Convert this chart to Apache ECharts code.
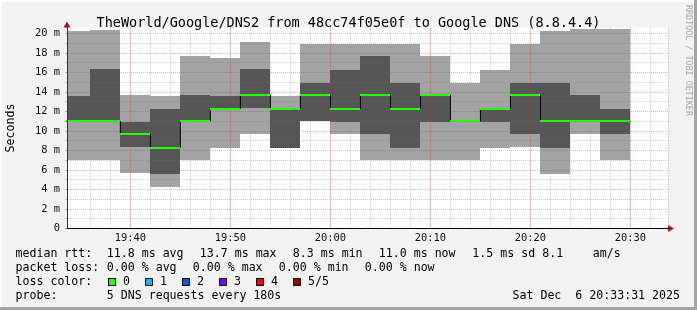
<!DOCTYPE html>
<html><head><meta charset="utf-8">
<script src="https://cdn.jsdelivr.net/npm/echarts@6/dist/echarts.min.js"></script>
<style>html,body{margin:0;padding:0;background:#f2f2f2}#c{width:697px;height:310px}</style>
</head><body><div id="c"></div>
<script>
// ---------- data ----------
const chartTitle = 'TheWorld/Google/DNS2 from 48cc74f05e0f to Google DNS (8.8.4.4)';
const binStart = ['19:33','19:36','19:39','19:42','19:45','19:48','19:51','19:54','19:57','20:00',
                  '20:03','20:06','20:09','20:12','20:15','20:18','20:21','20:24','20:27'];
const binMinutes = 3;
// sorted pings (ms): ping1 lowest ... ping5 highest, ping3 = median
const ping1  = [7.05, 7.05, 5.7, 4.3, 7.05, 8.3, 9.7, 8.3, 11.0, 9.7, 7.05, 7.05, 7.05, 7.05, 8.3, 8.35, 5.6, 9.7, 7.05];
const ping2  = [11.0, 11.0, 8.35, 5.6, 11.0, 12.3, 12.4, 8.3, 11.0, 10.95, 9.7, 8.3, 10.95, 11.0, 10.95, 9.7, 8.3, 11.0, 9.7];
const median = [11.0, 11.0, 9.7, 8.3, 11.0, 12.3, 13.7, 12.3, 13.7, 12.3, 13.7, 12.3, 13.7, 11.0, 12.3, 13.7, 11.0, 11.0, 11.0];
const ping4  = [13.6, 16.35, 10.95, 12.25, 13.7, 13.6, 16.35, 12.3, 14.95, 16.25, 17.7, 14.95, 13.7, 11.0, 12.3, 14.95, 14.95, 13.7, 12.25];
const ping5  = [20.25, 20.35, 13.7, 13.6, 17.7, 17.5, 19.1, 13.6, 18.9, 18.9, 18.9, 18.9, 17.7, 14.95, 16.25, 18.9, 20.25, 20.45, 20.45];
const xRange = ['19:33:40', '20:33:45'];
const yMax = 20.6;
const yLabelUnit = ' m';
const yAxisName = 'Seconds';
const legendRowLabels = ['median rtt:', 'packet loss:', 'loss color:', 'probe:'];
const rttStats = ['11.8 ms avg', '13.7 ms max', '8.3 ms min', '11.0 ms now', '1.5 ms sd', '8.1', 'am/s'];
const lossStats = ['0.00 % avg', '0.00 % max', '0.00 % min', '0.00 % now'];
const lossLabels = ['0', '1', '2', '3', '4', '5/5'];
const lossColors = ['#26ff00', '#00b8ff', '#0059ff', '#7e00ff', '#ff0000', '#a10000'];
const probeText = '5 DNS requests every 180s';
const dateText = 'Sat Dec  6 20:33:31 2025';
const sideText = 'RRDTOOL / TOBI OETIKER';

// ---------- helpers ----------
function t(s) {
  const p = s.split(':').map(Number);
  return new Date(2025, 11, 6, p[0], p[1], p[2] || 0).getTime();
}
const MIN = 60000;
const smokeData = binStart.map((s, i) => [t(s), t(s) + binMinutes * MIN, ping1[i], ping2[i], ping4[i], ping5[i]]);
const medData = binStart.map((s, i) => [t(s), t(s) + binMinutes * MIN, median[i]]);
const stepData = binStart.map((s, i) => [t(s), median[i]]);
stepData.push([t(binStart[binStart.length - 1]) + binMinutes * MIN, median[median.length - 1]]);

const MONO = '"DejaVu Sans Mono", monospace';
const LIGHT = '#a3a3a3', DARK = '#565656', GREEN = '#26ff00';
const RED_GRID = 'rgba(240,30,30,0.38)', GRAY_GRID = 'rgba(120,120,120,0.36)';

function clipR(r, cs) {
  return echarts.graphic.clipRectByRect(r, {x: cs.x, y: cs.y, width: cs.width, height: cs.height});
}

const chart = echarts.init(document.getElementById('c'), null, {renderer: 'canvas'});

// legend graphics
const g = [];
function txt(x, y, s, extra) {
  g.push(Object.assign({type: 'text', x: x, y: y, silent: true,
    style: Object.assign({text: s, font: '11.6px ' + MONO, fill: '#000', textAlign: 'left', textVerticalAlign: 'middle'}, extra || {})}));
}
const rowY = [254, 268, 282, 296];
legendRowLabels.forEach((s, i) => txt(15.5, rowY[i], s));
const rttX = [106.8, 199.8, 292.8, 378.8, 472.3, 542.3, 592.8];
rttStats.forEach((s, i) => txt(rttX[i], rowY[0], s));
const lossX = [106.8, 192.8, 278.8, 364.8];
lossStats.forEach((s, i) => txt(lossX[i], rowY[1], s));
const boxX = [108.5, 145.5, 182.5, 219.5, 256.5, 293.5];
lossLabels.forEach((s, i) => {
  g.push({type: 'rect', silent: true, shape: {x: boxX[i], y: 278.5, width: 7, height: 7},
          style: {fill: lossColors[i], stroke: '#000', lineWidth: 1}});
  txt(boxX[i] + 14.5, rowY[2], s);
});
txt(106.8, rowY[3], probeText);
txt(680, rowY[3], dateText, {textAlign: 'right'});
// side text
g.push({type: 'text', x: 688, y: 5, rotation: -Math.PI / 2, silent: true,
  style: {text: sideText, font: '8.4px ' + MONO, fill: '#a8a8a8', textAlign: 'left', textVerticalAlign: 'middle'}});
// frame
g.push({type: 'rect', silent: true, shape: {x: 0, y: 0, width: 697, height: 2}, style: {fill: '#fcfcfc'}});
g.push({type: 'rect', silent: true, shape: {x: 0, y: 0, width: 2, height: 310}, style: {fill: '#fcfcfc'}});
g.push({type: 'rect', silent: true, shape: {x: 0, y: 307, width: 697, height: 3}, style: {fill: '#a4a4a4'}});
g.push({type: 'rect', silent: true, shape: {x: 694, y: 0, width: 3, height: 310}, style: {fill: '#a4a4a4'}});
// axis arrows
g.push({type: 'polygon', silent: true, z: 100, shape: {points: [[67, 21.5], [63.5, 27.5], [70.5, 27.5]]}, style: {fill: '#9a1a1a'}});
g.push({type: 'polygon', silent: true, z: 100, shape: {points: [[674, 228.5], [668, 225], [668, 232]]}, style: {fill: '#9a1a1a'}});

const option = {
  animation: false,
  backgroundColor: '#f2f2f2',
  title: {
    text: chartTitle, left: 'center', top: 11,
    textStyle: {fontFamily: MONO, fontSize: 13.5, fontWeight: 'normal', color: '#000'}
  },
  grid: {left: 67, right: 29, top: 27.6, bottom: 81.5, containLabel: false, outerBoundsMode: 'none',
         show: true, backgroundColor: '#ffffff', borderWidth: 0},
  xAxis: [
    {
      type: 'time', min: t(xRange[0]), max: t(xRange[1]),
      minInterval: 10.5 * MIN, maxInterval: 10.5 * MIN,
      axisLine: {show: true, lineStyle: {color: '#000', width: 1}},
      axisTick: {show: false},
      axisLabel: {formatter: '{HH}:{mm}', fontFamily: MONO, fontSize: 10.4, color: '#111', margin: 5, hideOverlap: false},
      splitLine: {show: true, showMinLine: false, showMaxLine: false, lineStyle: {color: RED_GRID, type: [1, 1], width: 1}},
      z: 3
    },
    {
      type: 'time', min: t(xRange[0]), max: t(xRange[1]),
      minInterval: 2.5 * MIN, maxInterval: 2.5 * MIN,
      axisLine: {show: false}, axisTick: {show: false}, axisLabel: {show: false},
      splitLine: {show: true, showMinLine: false, lineStyle: {color: GRAY_GRID, type: [1, 1], width: 1}},
      z: 1
    }
  ],
  yAxis: {
    type: 'value', min: 0, max: yMax, interval: 2,
    name: yAxisName, nameLocation: 'middle', nameGap: 50,
    nameTextStyle: {fontFamily: MONO, fontSize: 11.6, color: '#000'},
    axisLine: {show: true, lineStyle: {color: '#333', width: 1}},
    axisTick: {show: true, length: 2, lineStyle: {color: RED_GRID}},
    minorTick: {show: true, splitNumber: 2, length: 2, lineStyle: {color: GRAY_GRID}},
    axisLabel: {
      showMaxLabel: false, fontFamily: MONO, fontSize: 10.4, color: '#111', margin: 7,
      formatter: v => (v === 0 ? '0' : v + yLabelUnit)
    },
    splitLine: {show: true, showMinLine: false, showMaxLine: false, lineStyle: {color: RED_GRID, type: [1, 1], width: 1}},
    minorSplitLine: {show: true, lineStyle: {color: GRAY_GRID, type: [1, 1], width: 1}},
    z: 5
  },
  series: [
    {
      type: 'custom', name: 'smoke', xAxisIndex: 0, yAxisIndex: 0, z: 2, clip: true,
      data: smokeData,
      encode: {x: [0, 1], y: [2, 3, 4, 5]},
      renderItem: function (params, api) {
        const cs = params.coordSys;
        const x0 = Math.round(api.coord([api.value(0), 0])[0]);
        const x1 = Math.round(api.coord([api.value(1), 0])[0]);
        const y1 = Math.round(api.coord([api.value(0), api.value(2)])[1]);
        const y2 = Math.round(api.coord([api.value(0), api.value(3)])[1]);
        const y4 = Math.round(api.coord([api.value(0), api.value(4)])[1]);
        const y5 = Math.round(api.coord([api.value(0), api.value(5)])[1]);
        const light = clipR({x: x0, y: y5, width: x1 - x0, height: y1 - y5}, cs);
        const dark = clipR({x: x0, y: y4, width: x1 - x0, height: y2 - y4}, cs);
        const ch = [];
        if (light) ch.push({type: 'rect', shape: light, style: {fill: LIGHT}});
        if (dark) ch.push({type: 'rect', shape: dark, style: {fill: DARK}});
        return {type: 'group', children: ch};
      }
    },
    {
      type: 'line', name: 'step', xAxisIndex: 0, yAxisIndex: 0, z: 3, step: 'end',
      data: stepData, showSymbol: false, symbol: 'none',
      lineStyle: {color: '#000', width: 1}, clip: true
    },
    {
      type: 'custom', name: 'median', xAxisIndex: 0, yAxisIndex: 0, z: 4, clip: true,
      data: medData,
      encode: {x: [0, 1], y: 2},
      renderItem: function (params, api) {
        const cs = params.coordSys;
        let x0 = Math.round(api.coord([api.value(0), 0])[0]);
        const x1 = Math.round(api.coord([api.value(1), 0])[0]);
        const y = Math.round(api.coord([api.value(0), api.value(2)])[1]);
        x0 = Math.max(x0, cs.x);
        return {type: 'rect', shape: {x: x0, y: y - 1, width: x1 - x0, height: 2}, style: {fill: GREEN}};
      }
    }
  ],
  graphic: g
};
chart.setOption(option);
</script>
</body></html>
